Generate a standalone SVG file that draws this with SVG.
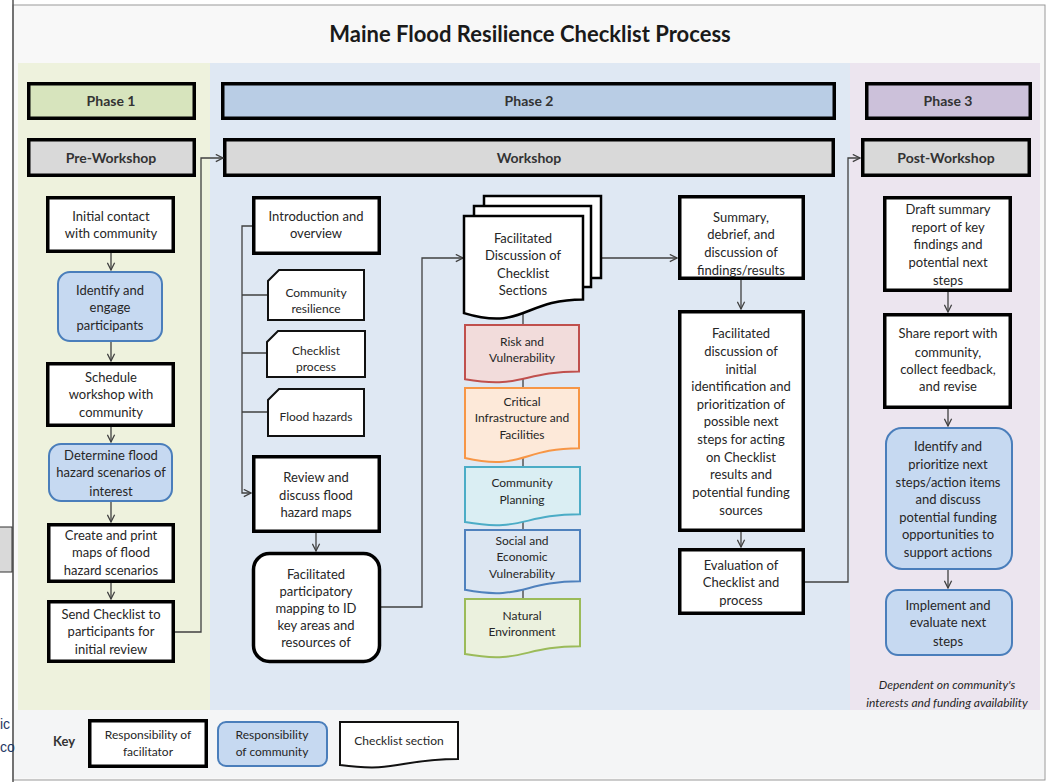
<svg xmlns="http://www.w3.org/2000/svg" width="1052" height="782" viewBox="0 0 1052 782">
<style>
text{font-family:Lato,"Liberation Sans",sans-serif;fill:#262626;text-anchor:middle}
.t{font-size:13px}
.s{font-size:12px}
.h{font-size:14px;font-weight:bold;fill:#333}
.fac{fill:#fff;stroke:#000;stroke-width:3.5}
.com{fill:#c6d9f1;stroke:#4a7ebb;stroke-width:2}
.card{fill:#fff;stroke:#111;stroke-width:2}
.hdr{stroke:#000;stroke-width:3.5}
.conn{fill:none;stroke:#404040;stroke-width:1.3}
</style>
<defs>
<marker id="arr" viewBox="0 0 10 10" refX="9" refY="5" markerWidth="9" markerHeight="9" orient="auto" markerUnits="userSpaceOnUse">
<path d="M1,1 L9,5 L1,9" fill="none" stroke="#404040" stroke-width="1.4"/>
</marker>
</defs>
<rect width="1052" height="782" fill="#fff"/>
<rect x="13" y="5" width="1032" height="775" fill="#f8f8f8" stroke="#9a9a9a" stroke-width="1"/>
<line x1="13" y1="0" x2="13" y2="782" stroke="#555" stroke-width="1.5"/>
<rect x="18" y="63" width="192" height="647" fill="#eef2dd"/>
<rect x="210" y="63" width="640" height="647" fill="#dfe8f3"/>
<rect x="850" y="63" width="190" height="647" fill="#ece5ef"/>
<rect x="14" y="710" width="1030" height="68" fill="#f4f5f6"/>
<rect x="-2" y="527" width="14" height="45" fill="#d9d9d9" stroke="#333" stroke-width="1"/>
<text x="0" y="729" style="text-anchor:start;font-family:'Liberation Sans',sans-serif;font-size:14px;fill:#1f3864">ic</text>
<text x="0" y="752" style="text-anchor:start;font-family:'Liberation Sans',sans-serif;font-size:14px;fill:#1f3864">co</text>
<text x="530" y="42" style="font-size:22px;font-weight:bold;fill:#1a1a1a">Maine Flood Resilience Checklist Process</text>

<g id="phase1"><rect class="hdr" x="28.75" y="83.75" width="165.5" height="34.5" fill="#d7e4bd"/><text class="h" x="111" y="106">Phase 1</text></g>
<g id="phase2"><rect class="hdr" x="222.75" y="83.75" width="611.5" height="34.5" fill="#b9cde5"/><text class="h" x="529" y="106">Phase 2</text></g>
<g id="phase3"><rect class="hdr" x="866.75" y="83.75" width="163.5" height="34.5" fill="#ccc1da"/><text class="h" x="948" y="106">Phase 3</text></g>
<g id="preworkshop"><rect class="hdr" x="28.75" y="139.75" width="165.5" height="35.5" fill="#d9d9d9"/><text class="h" x="111" y="163">Pre-Workshop</text></g>
<g id="workshop"><rect class="hdr" x="224.75" y="139.75" width="608.5" height="35.5" fill="#d9d9d9"/><text class="h" x="529" y="163">Workshop</text></g>
<g id="postworkshop"><rect class="hdr" x="862.75" y="139.75" width="166.5" height="35.5" fill="#d9d9d9"/><text class="h" x="946" y="163">Post-Workshop</text></g>

<g id="connectors">
<path class="conn" d="M111,253 V270" marker-end="url(#arr)"/>
<path class="conn" d="M111,342 V361" marker-end="url(#arr)"/>
<path class="conn" d="M111,427 V442" marker-end="url(#arr)"/>
<path class="conn" d="M111,502 V522" marker-end="url(#arr)"/>
<path class="conn" d="M111,583 V599" marker-end="url(#arr)"/>
<path class="conn" d="M175,632 H201 V158 H223" marker-end="url(#arr)"/>
<path class="conn" d="M252,226 H242 V493 H251" marker-end="url(#arr)"/>
<path class="conn" d="M242,295 H267 M242,353 H266 M242,412 H267"/>
<path class="conn" d="M316,533 V551" marker-end="url(#arr)"/>
<path class="conn" d="M381,607 H422 V258 H463" marker-end="url(#arr)"/>
<path class="conn" d="M602,258 H677" marker-end="url(#arr)"/>
<path class="conn" d="M523,313 V325 M523,379 V388 M523,458 V467 M523,522 V530 M523,590 V599"/>
<path class="conn" d="M741,280 V309" marker-end="url(#arr)"/>
<path class="conn" d="M741,532 V547" marker-end="url(#arr)"/>
<path class="conn" d="M805,582 H848 V158 H860" marker-end="url(#arr)"/>
<path class="conn" d="M948,292 V312" marker-end="url(#arr)"/>
<path class="conn" d="M948,409 V426" marker-end="url(#arr)"/>
<path class="conn" d="M948,570 V588" marker-end="url(#arr)"/>
</g>

<g id="initial-contact"><rect class="fac" x="47.75" y="197.75" width="125.5" height="53.5"/><text class="t" x="111" y="221">Initial contact</text><text class="t" x="111" y="238">with community</text></g>
<g id="identify-participants"><rect class="com" x="58" y="272" width="104" height="69" rx="12"/><text class="t" x="110" y="295">Identify and</text><text class="t" x="110" y="312">engage</text><text class="t" x="110" y="330">participants</text></g>
<g id="schedule"><rect class="fac" x="47.75" y="363.75" width="125.5" height="61.5"/><text class="t" x="111" y="382">Schedule</text><text class="t" x="111" y="399">workshop with</text><text class="t" x="111" y="417">community</text></g>
<g id="determine"><rect class="com" x="49" y="444" width="123" height="57" rx="12"/><text class="t" x="111" y="460">Determine flood</text><text class="t" x="111" y="477">hazard scenarios of</text><text class="t" x="111" y="496">interest</text></g>
<g id="create-maps"><rect class="fac" x="48.75" y="524.75" width="124.5" height="56.5"/><text class="t" x="111" y="540">Create and print</text><text class="t" x="111" y="557">maps of flood</text><text class="t" x="111" y="575">hazard scenarios</text></g>
<g id="send-checklist"><rect class="fac" x="48.75" y="601.75" width="124.5" height="59.5"/><text class="t" x="111" y="619">Send Checklist to</text><text class="t" x="111" y="636">participants for</text><text class="t" x="111" y="654">initial review</text></g>

<g id="introduction"><rect class="fac" x="253.75" y="197.75" width="125.5" height="55.5"/><text class="t" x="316" y="221">Introduction  and</text><text class="t" x="316" y="238">overview</text></g>
<g id="community-resilience"><path class="card" d="M279,270 H364 V320 H268 V281 Z"/><text class="s" x="316" y="297">Community</text><text class="s" x="316" y="313">resilience</text></g>
<g id="checklist-process"><path class="card" d="M278,331 H365 V377 H267 V342 Z"/><text class="s" x="316" y="355">Checklist</text><text class="s" x="316" y="371">process</text></g>
<g id="flood-hazards"><path class="card" d="M279,389 H364 V436 H268 V400 Z"/><text class="s" x="316" y="421">Flood hazards</text></g>
<g id="review-maps"><rect class="fac" x="253.75" y="456.75" width="125.5" height="74.5"/><text class="t" x="316" y="482">Review and</text><text class="t" x="316" y="500">discuss flood</text><text class="t" x="316" y="517">hazard maps</text></g>
<g id="participatory-mapping"><rect class="fac" x="253.5" y="553.5" width="126" height="108" rx="16"/><text class="t" x="316" y="579">Facilitated</text><text class="t" x="316" y="596">participatory</text><text class="t" x="316" y="613">mapping to ID</text><text class="t" x="316" y="630">key areas and</text><text class="t" x="316" y="647">resources of</text></g>

<g id="facilitated-discussion">
<rect x="484" y="196" width="117" height="82" fill="#fff" stroke="#000" stroke-width="2.5"/>
<rect x="474" y="206" width="117" height="81" fill="#fff" stroke="#000" stroke-width="2.5"/>
<path d="M464,216 H583 V299.4 C523.5,299.4 523.5,331.1 464,313.1 Z" fill="#fff" stroke="#000" stroke-width="2.5"/>
<text class="t" x="523" y="243">Facilitated</text><text class="t" x="523" y="260">Discussion of</text><text class="t" x="523" y="278">Checklist</text><text class="t" x="523" y="295">Sections</text>
</g>
<g id="risk"><path d="M465,325 H579 V371.5 C522,371.5 522,389.2 465,379.2 Z" fill="#f2dcdb" stroke="#c0504d" stroke-width="2"/><text class="s" x="522" y="346">Risk and</text><text class="s" x="522" y="362">Vulnerability</text></g>
<g id="critical"><path d="M465,388 H579 V448.2 C522,448.2 522,471 465,458 Z" fill="#fde9d9" stroke="#f79646" stroke-width="2"/><text class="s" x="522" y="406">Critical</text><text class="s" x="522" y="422">Infrastructure and</text><text class="s" x="522" y="439">Facilities</text></g>
<g id="planning"><path d="M465,467 H580 V514.3 C522.5,514.3 522.5,532.3 465,522.1 Z" fill="#daeef3" stroke="#4bacc6" stroke-width="2"/><text class="s" x="522" y="487">Community</text><text class="s" x="522" y="504">Planning</text></g>
<g id="social"><path d="M465,530 H580 V581.3 C522.5,581.3 522.5,600.8 465,589.8 Z" fill="#dce6f2" stroke="#4f81bd" stroke-width="2"/><text class="s" x="522" y="545">Social and</text><text class="s" x="522" y="561">Economic</text><text class="s" x="522" y="578">Vulnerability</text></g>
<g id="natural"><path d="M465,599 H580 V646.3 C522.5,646.3 522.5,664.3 465,654.1 Z" fill="#ebf1de" stroke="#9bbb59" stroke-width="2"/><text class="s" x="522" y="620">Natural</text><text class="s" x="522" y="636">Environment</text></g>

<g id="summary"><rect class="fac" x="679.75" y="196.75" width="123.5" height="81.5"/><text class="t" x="741" y="222">Summary,</text><text class="t" x="741" y="239">debrief, and</text><text class="t" x="741" y="257">discussion of</text><text class="t" x="741" y="275">findings/results</text></g>
<g id="next-steps-discussion"><rect class="fac" x="679.75" y="311.75" width="123.5" height="218.5"/>
<text class="t" x="741" y="338">Facilitated</text><text class="t" x="741" y="356">discussion of</text><text class="t" x="741" y="374">initial</text><text class="t" x="741" y="391">identification and</text><text class="t" x="741" y="409">prioritization of</text><text class="t" x="741" y="426">possible next</text><text class="t" x="741" y="444">steps for acting</text><text class="t" x="741" y="462">on Checklist</text><text class="t" x="741" y="479">results and</text><text class="t" x="741" y="497">potential funding</text><text class="t" x="741" y="515">sources</text></g>
<g id="evaluation"><rect class="fac" x="679.75" y="549.75" width="123.5" height="63.5"/><text class="t" x="741" y="570">Evaluation of</text><text class="t" x="741" y="587">Checklist and</text><text class="t" x="741" y="605">process</text></g>

<g id="draft-report"><rect class="fac" x="884.75" y="197.75" width="125.5" height="92.5"/><text class="t" x="948" y="214">Draft summary</text><text class="t" x="948" y="232">report of key</text><text class="t" x="948" y="249">findings and</text><text class="t" x="948" y="267">potential next</text><text class="t" x="948" y="285">steps</text></g>
<g id="share-report"><rect class="fac" x="884.75" y="314.75" width="125.5" height="92.5"/><text class="t" x="948" y="338">Share report with</text><text class="t" x="948" y="357">community,</text><text class="t" x="948" y="374">collect feedback,</text><text class="t" x="948" y="391">and revise</text></g>
<g id="prioritize"><rect class="com" x="886" y="428" width="126" height="141" rx="16"/><text class="t" x="948" y="451">Identify and</text><text class="t" x="948" y="469">prioritize next</text><text class="t" x="948" y="487">steps/action items</text><text class="t" x="948" y="504">and discuss</text><text class="t" x="948" y="522">potential funding</text><text class="t" x="948" y="539">opportunities to</text><text class="t" x="948" y="557">support actions</text></g>
<g id="implement"><rect class="com" x="886" y="590" width="126" height="65" rx="12"/><text class="t" x="948" y="610">Implement and</text><text class="t" x="948" y="627">evaluate next</text><text class="t" x="948" y="646">steps</text></g>
<g id="note"><text class="s" x="947" y="689" style="font-style:italic">Dependent on community's</text><text class="s" x="947" y="707" style="font-style:italic">interests and funding availability</text></g>

<g id="key">
<text x="64" y="746" style="font-size:13px;font-weight:bold;fill:#333">Key</text>
<rect class="fac" x="89.75" y="720.75" width="116.5" height="45.5"/><text class="s" x="148" y="739">Responsibility of</text><text class="s" x="148" y="756">facilitator</text>
<rect class="com" x="218" y="722" width="109" height="44" rx="8"/><text class="s" x="272" y="739">Responsibility</text><text class="s" x="272" y="756">of community</text>
<path d="M340,722 H458 V758.9 C399,758.9 399,772.9 340,765 Z" fill="#fff" stroke="#111" stroke-width="2"/><text class="s" x="399" y="745">Checklist section</text>
</g>
</svg>
